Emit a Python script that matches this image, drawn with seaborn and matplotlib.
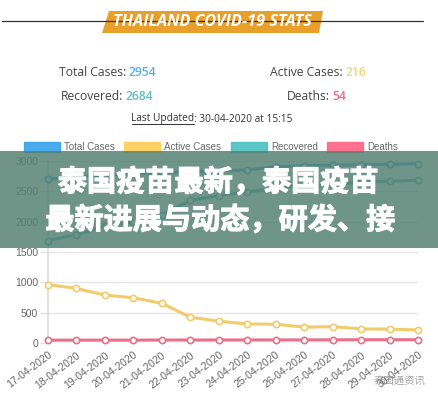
import numpy as np
import pandas as pd
import matplotlib
matplotlib.use("Agg")
import matplotlib.pyplot as plt
import matplotlib.patheffects as pe
import seaborn as sns
from matplotlib.patches import Rectangle, Polygon
from matplotlib.lines import Line2D

# data
dates = ['17-04-2020', '18-04-2020', '19-04-2020', '20-04-2020', '21-04-2020',
         '22-04-2020', '23-04-2020', '24-04-2020', '25-04-2020', '26-04-2020',
         '27-04-2020', '28-04-2020', '29-04-2020', '30-04-2020']
total_cases = [2700, 2733, 2765, 2792, 2811, 2826, 2839, 2854, 2907, 2922, 2931, 2938, 2947, 2954]
active_cases = [964, 899, 790, 746, 654, 425, 359, 314, 309, 262, 270, 232, 228, 216]
recovered = [1689, 1787, 1928, 1999, 2108, 2352, 2430, 2490, 2547, 2609, 2609, 2652, 2665, 2684]
deaths = [47, 47, 47, 47, 49, 49, 50, 50, 51, 51, 52, 54, 54, 54]

series_names = ['Total Cases', 'Active Cases', 'Recovered', 'Deaths']
series_values = [total_cases, active_cases, recovered, deaths]
line_colors = ['#36A2EB', '#F2CB6C', '#4BC0C0', '#E8708A']
box_colors = ['#36A2EB', '#FFCD56', '#4BC0C0', '#FF6384']
yticks = [0, 500, 1000, 1500, 2000, 2500, 3000]

sns.set_theme(style="white")
plt.rcParams['font.family'] = ['Liberation Sans', 'DejaVu Sans']

W, H = 438, 400
fig = plt.figure(figsize=(W / 100, H / 100), dpi=100)

def fx(px):
    return px / W

def fy(py):
    return 1 - py / H

# chart area
ax = fig.add_axes([fx(48), fy(343), fx(418) - fx(48), fy(161) - fy(343)])
df = pd.DataFrame({'x': np.arange(len(dates))})
for name, vals, col in zip(series_names, series_values, line_colors):
    df[name] = vals
    sns.lineplot(data=df, x='x', y=name, ax=ax, color=col, linewidth=2.2,
                 marker='o', markersize=4.5, markerfacecolor='white',
                 markeredgecolor=col, markeredgewidth=1.2, clip_on=False, zorder=3)

ax.set_xlim(0, len(dates) - 1)
ax.set_ylim(0, 3000)
ax.set_yticks(yticks)
ax.set_yticklabels([str(v) for v in yticks])
ax.set_xticks(np.arange(len(dates)))
ax.set_xticklabels(dates, rotation=37, ha='right', rotation_mode='anchor')
ax.set_xlabel('')
ax.set_ylabel('')
ax.grid(axis='y', color='#e6e6e6', linewidth=1)
ax.grid(axis='x', visible=False)
for s in ['top', 'right', 'bottom']:
    ax.spines[s].set_visible(False)
ax.spines['left'].set_color('#dddddd')
ax.tick_params(axis='y', colors='#e0e0e0', labelcolor='#666666', labelsize=7.5,
               length=6, width=1, pad=1, left=True)
ax.tick_params(axis='x', labelcolor='#666666', labelsize=7.5, length=0, pad=5)

# legend (drawn like the chart.js legend)
legend_box_x = [24, 124, 231, 327]
for bx, name, col in zip(legend_box_x, series_names, box_colors):
    fig.add_artist(Rectangle((fx(bx), fy(152)), fx(36), 10 / H, transform=fig.transFigure,
                             facecolor=col, edgecolor=col, alpha=0.9, linewidth=1))
    fig.text(fx(bx + 40), fy(147), name, fontsize=7, color='#666666',
             ha='left', va='center')

# header
fig.add_artist(Line2D([fx(2), fx(423)], [fy(21), fy(21)], transform=fig.transFigure,
                      color='#333333', linewidth=0.9))
fig.add_artist(Polygon([(fx(109), fy(11)), (fx(323), fy(11)), (fx(319), fy(33)), (fx(102), fy(33))],
                       closed=True, transform=fig.transFigure, facecolor='#E8A02A',
                       edgecolor='none'))
fig.text(fx(212), fy(22.5), 'THAILAND COVID-19 STATS', fontsize=11.7, color='white',
         fontweight='bold', fontstyle='italic', family='Open Sans', ha='center', va='center')

stat_font = dict(fontsize=8.7, family='Open Sans', va='center')
stats = [(126, 72, 'Total Cases:', '2954', '#5AAEDD'),
         (343, 72, 'Active Cases:', '216', '#F6D27C'),
         (123, 97, 'Recovered:', '2684', '#5CC0BE'),
         (330, 97, 'Deaths:', '54', '#EE6A8A')]
for sx, sy, label, num, col in stats:
    fig.text(fx(sx), fy(sy), label, color='#444444', ha='right', **stat_font)
    fig.text(fx(sx + 2.5), fy(sy), num, color=col, ha='left', fontweight='semibold', **stat_font)

fig.text(fx(194), fy(119), 'Last Updated', color='#333333', ha='right',
         fontsize=7.3, family='Open Sans', va='center')
fig.text(fx(194), fy(119), ': 30-04-2020 at 15:15', color='#333333', ha='left',
         fontsize=7.3, family='Open Sans', va='center')
fig.add_artist(Line2D([fx(132), fx(194)], [fy(124), fy(124)], transform=fig.transFigure,
                      color='#333333', linewidth=0.7))

# overlay banner
fig.add_artist(Rectangle((0, fy(248)), 1, (248 - 151) / H, transform=fig.transFigure,
                         facecolor='#568173', alpha=0.85, edgecolor='none', zorder=5))
cjk = ['Noto Sans CJK SC', 'DejaVu Sans']
thick = [pe.withStroke(linewidth=0.8, foreground='white')]
fig.text(fx(218), fy(182), '泰国疫苗最新，泰国疫苗', fontsize=21, color='white',
         fontweight='bold', family=cjk, ha='center', va='center', zorder=6,
         path_effects=thick)
fig.text(fx(220), fy(220), '最新进展与动态，研发、接', fontsize=21, color='white',
         fontweight='bold', family=cjk, ha='center', va='center', zorder=6,
         path_effects=thick)

# watermark
fig.text(fx(400), fy(381), '泰国通资讯', fontsize=7.5, color='#8a8a8a', alpha=0.8,
         family=cjk, ha='center', va='center')

fig.savefig('out.png', dpi=100)
